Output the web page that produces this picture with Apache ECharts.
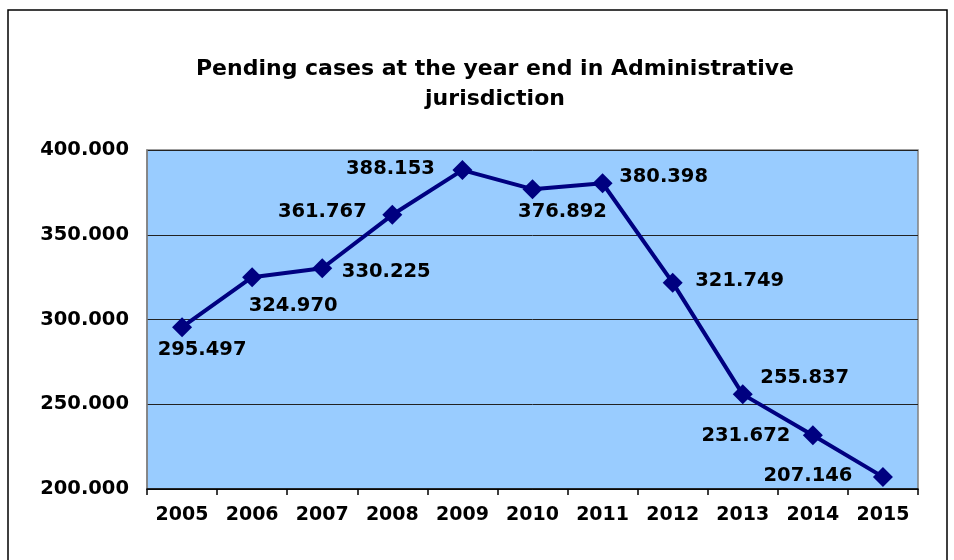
<!DOCTYPE html>
<html>
<head>
<meta charset="utf-8">
<script src="https://cdn.jsdelivr.net/npm/echarts@6/dist/echarts.min.js"></script>
<style>
html,body{margin:0;padding:0;background:#fff;}
#c{width:954px;height:560px;}
</style>
</head>
<body>
<div id="c"></div>
<script>
const years = ['2005','2006','2007','2008','2009','2010','2011','2012','2013','2014','2015'];
const pending = [295497, 324970, 330225, 361767, 388153, 376892, 380398, 321749, 255837, 231672, 207146];
const yTicks = [200000, 250000, 300000, 350000, 400000];
const labelOffsets = [[20,23],[41,29],[64,4],[-70,-3],[-72,-1],[30,23],[61,-6],[67,-2],[62,-16],[-67,1],[-75,-1]];

function fmt(v){
  return String(v).replace(/\B(?=(\d{3})+(?!\d))/g, '.');
}
const font = 'DejaVu Sans';
const chart = echarts.init(document.getElementById('c'), null, {renderer:'canvas'});
chart.setOption({
  animation:false,
  backgroundColor:'#fff',
  title:{
    text:'Pending cases at the year end in Administrative\njurisdiction',
    left:490, top:49, textAlign:'center',
    textStyle:{fontFamily:font, fontWeight:'bold', fontSize:22, lineHeight:30, color:'#000'}
  },
  graphic:[{type:'rect', shape:{x:8,y:10,width:939,height:600}, style:{fill:'none', stroke:'#000', lineWidth:1.5}, silent:true}],
  grid:{left:147, right:36, top:150, bottom:71, show:true, backgroundColor:'#99CCFF', borderColor:'#808080', borderWidth:1.5},
  xAxis:{
    type:'category', data:years, boundaryGap:true,
    axisLine:{lineStyle:{color:'#000', width:1.5}},
    axisTick:{show:true, interval:0, length:6, lineStyle:{color:'#000', width:1.5}, alignWithLabel:false},
    axisLabel:{interval:0, hideOverlap:false, fontFamily:font, fontWeight:'bold', fontSize:19, color:'#000', margin:17}
  },
  yAxis:{
    type:'value', min:yTicks[0], max:yTicks[yTicks.length-1], interval:50000,
    axisLine:{show:true, lineStyle:{color:'#808080', width:1.5}},
    axisTick:{show:false},
    splitLine:{lineStyle:{color:'#222', width:1}},
    axisLabel:{fontFamily:font, fontWeight:'bold', fontSize:19.5, color:'#000', margin:18, formatter:fmt}
  },
  series:[{
    type:'line', data:pending.map((v,i)=>({value:v, label:{offset:labelOffsets[i]}})),
    symbol:'diamond', symbolSize:20,
    lineStyle:{color:'#000080', width:4},
    itemStyle:{color:'#000080'},
    label:{show:true, position:'inside', align:'center', verticalAlign:'middle',
      fontFamily:font, fontWeight:'bold', fontSize:19.5, color:'#000',
      formatter:p=>fmt(p.value)}
  }]
});
</script>
</body>
</html>
